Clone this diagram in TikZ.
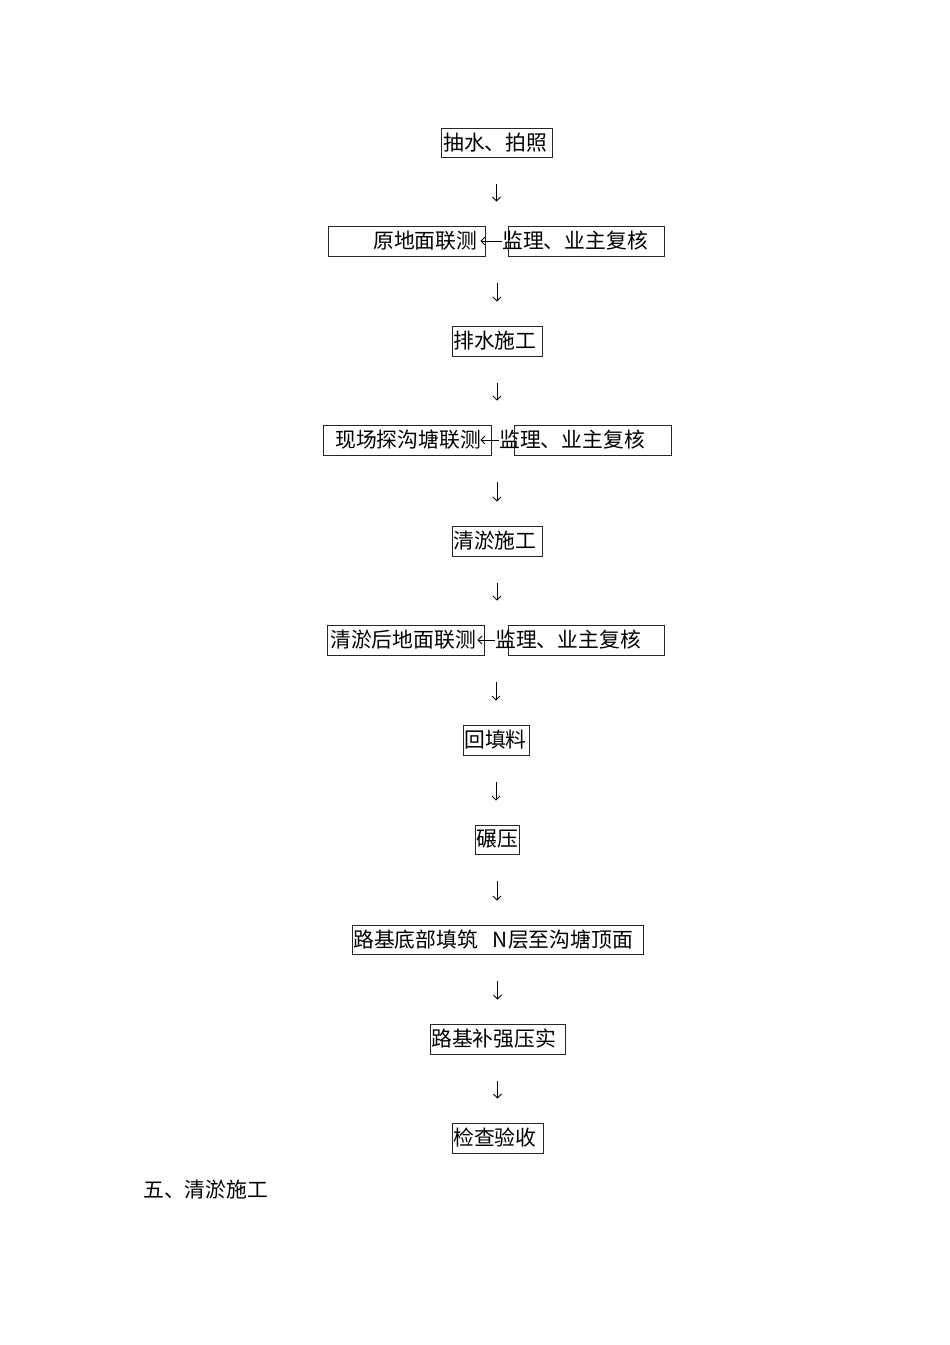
\documentclass[tikz,border=0pt]{standalone}
\usepackage{fontspec}
\newfontfamily\cjk{Noto Sans CJK SC}
\usetikzlibrary{arrows.meta}
\begin{document}
\begin{tikzpicture}[x=1pt,y=1pt,
  box/.style={draw=black!85,line width=0.9pt,inner sep=0pt,minimum height=30pt},
  txt/.style={anchor=west,inner sep=0pt,font=\cjk\fontsize{20.8pt}{24pt}\selectfont},
  darr/.style={line width=0.8pt,-{Straight Barb[length=4pt,width=8pt]},shorten <=27pt,shorten >=24pt},
  larr/.style={line width=0.8pt,-{Straight Barb[length=4pt,width=8pt]}}]
\useasboundingbox (0,0) rectangle (950,-1345);
% boxes
\node[box,minimum width=111pt,minimum height=29pt] (b1) at (496.5,-142.5) {};
\node[box,minimum width=157pt] (l2) at (406.5,-241) {};
\node[box,minimum width=156pt] (r2) at (586,-241) {};
\node[box,minimum width=90pt] (b3) at (497,-341) {};
\node[box,minimum width=168pt] (l4) at (407,-440) {};
\node[box,minimum width=157pt] (r4) at (592.5,-440) {};
\node[box,minimum width=90pt] (b5) at (497,-541) {};
\node[box,minimum width=157pt] (l6) at (405.5,-640) {};
\node[box,minimum width=156pt] (r6) at (586,-640) {};
\node[box,minimum width=66pt] (b7) at (496,-740) {};
\node[box,minimum width=44pt,minimum height=29pt] (b8) at (497,-839.5) {};
\node[box,minimum width=291pt,minimum height=29pt] (b9) at (497.5,-939.5) {};
\node[box,minimum width=135pt] (b10) at (497.5,-1039) {};
\node[box,minimum width=91pt] (b11) at (497.5,-1138) {};
% texts
\node[txt] (t1) at (443,-142.5) {抽水、拍照};
\node[txt] (tl2) at (373,-241) {原地面联测};
\node[txt] (tr2) at (502,-241) {监理、业主复核};
\node[txt] (t3) at (453,-341) {排水施工};
\node[txt] (tl4) at (335,-440) {现场探沟塘联测};
\node[txt] (tr4) at (499,-440) {监理、业主复核};
\node[txt] (t5) at (453,-541) {清淤施工};
\node[txt] (tl6) at (330,-640) {清淤后地面联测};
\node[txt] (tr6) at (495,-640) {监理、业主复核};
\node[txt] (t7) at (464,-740) {回填料};
\node[txt] (t8) at (476,-839.5) {碾压};
\node[txt] (t9) at (353,-939.5) {路基底部填筑\hspace{15pt}N层至沟塘顶面};
\node[txt] (t10) at (431,-1039) {路基补强压实};
\node[txt] (t11) at (453,-1138) {检查验收};
\node[txt] (h) at (143,-1190) {五、清淤施工};
% side arrows
\draw[larr] ([xshift=-6pt]r2.west) -- ([xshift=-5pt]l2.east);
\draw[larr] ([xshift=-15pt]r4.west) -- ([xshift=-11pt]l4.east);
\draw[larr] ([xshift=-13pt]r6.west) -- ([xshift=-7pt]l6.east);
% down arrows
\draw[darr] (b1.south) -- (b1.south |- l2.north);
\draw[darr] (b3.north |- l2.south) -- (b3.north);
\draw[darr] (b3.south) -- (b3.south |- l4.north);
\draw[darr] (b5.north |- l4.south) -- (b5.north);
\draw[darr] (b5.south) -- (b5.south |- l6.north);
\draw[darr] (b7.north |- l6.south) -- (b7.north);
\draw[darr] (b7.south) -- (b7.south |- b8.north);
\draw[darr] (b8.south) -- (b8.south |- b9.north);
\draw[darr] (b9.south) -- (b9.south |- b10.north);
\draw[darr] (b10.south) -- (b10.south |- b11.north);
\end{tikzpicture}
\end{document}
